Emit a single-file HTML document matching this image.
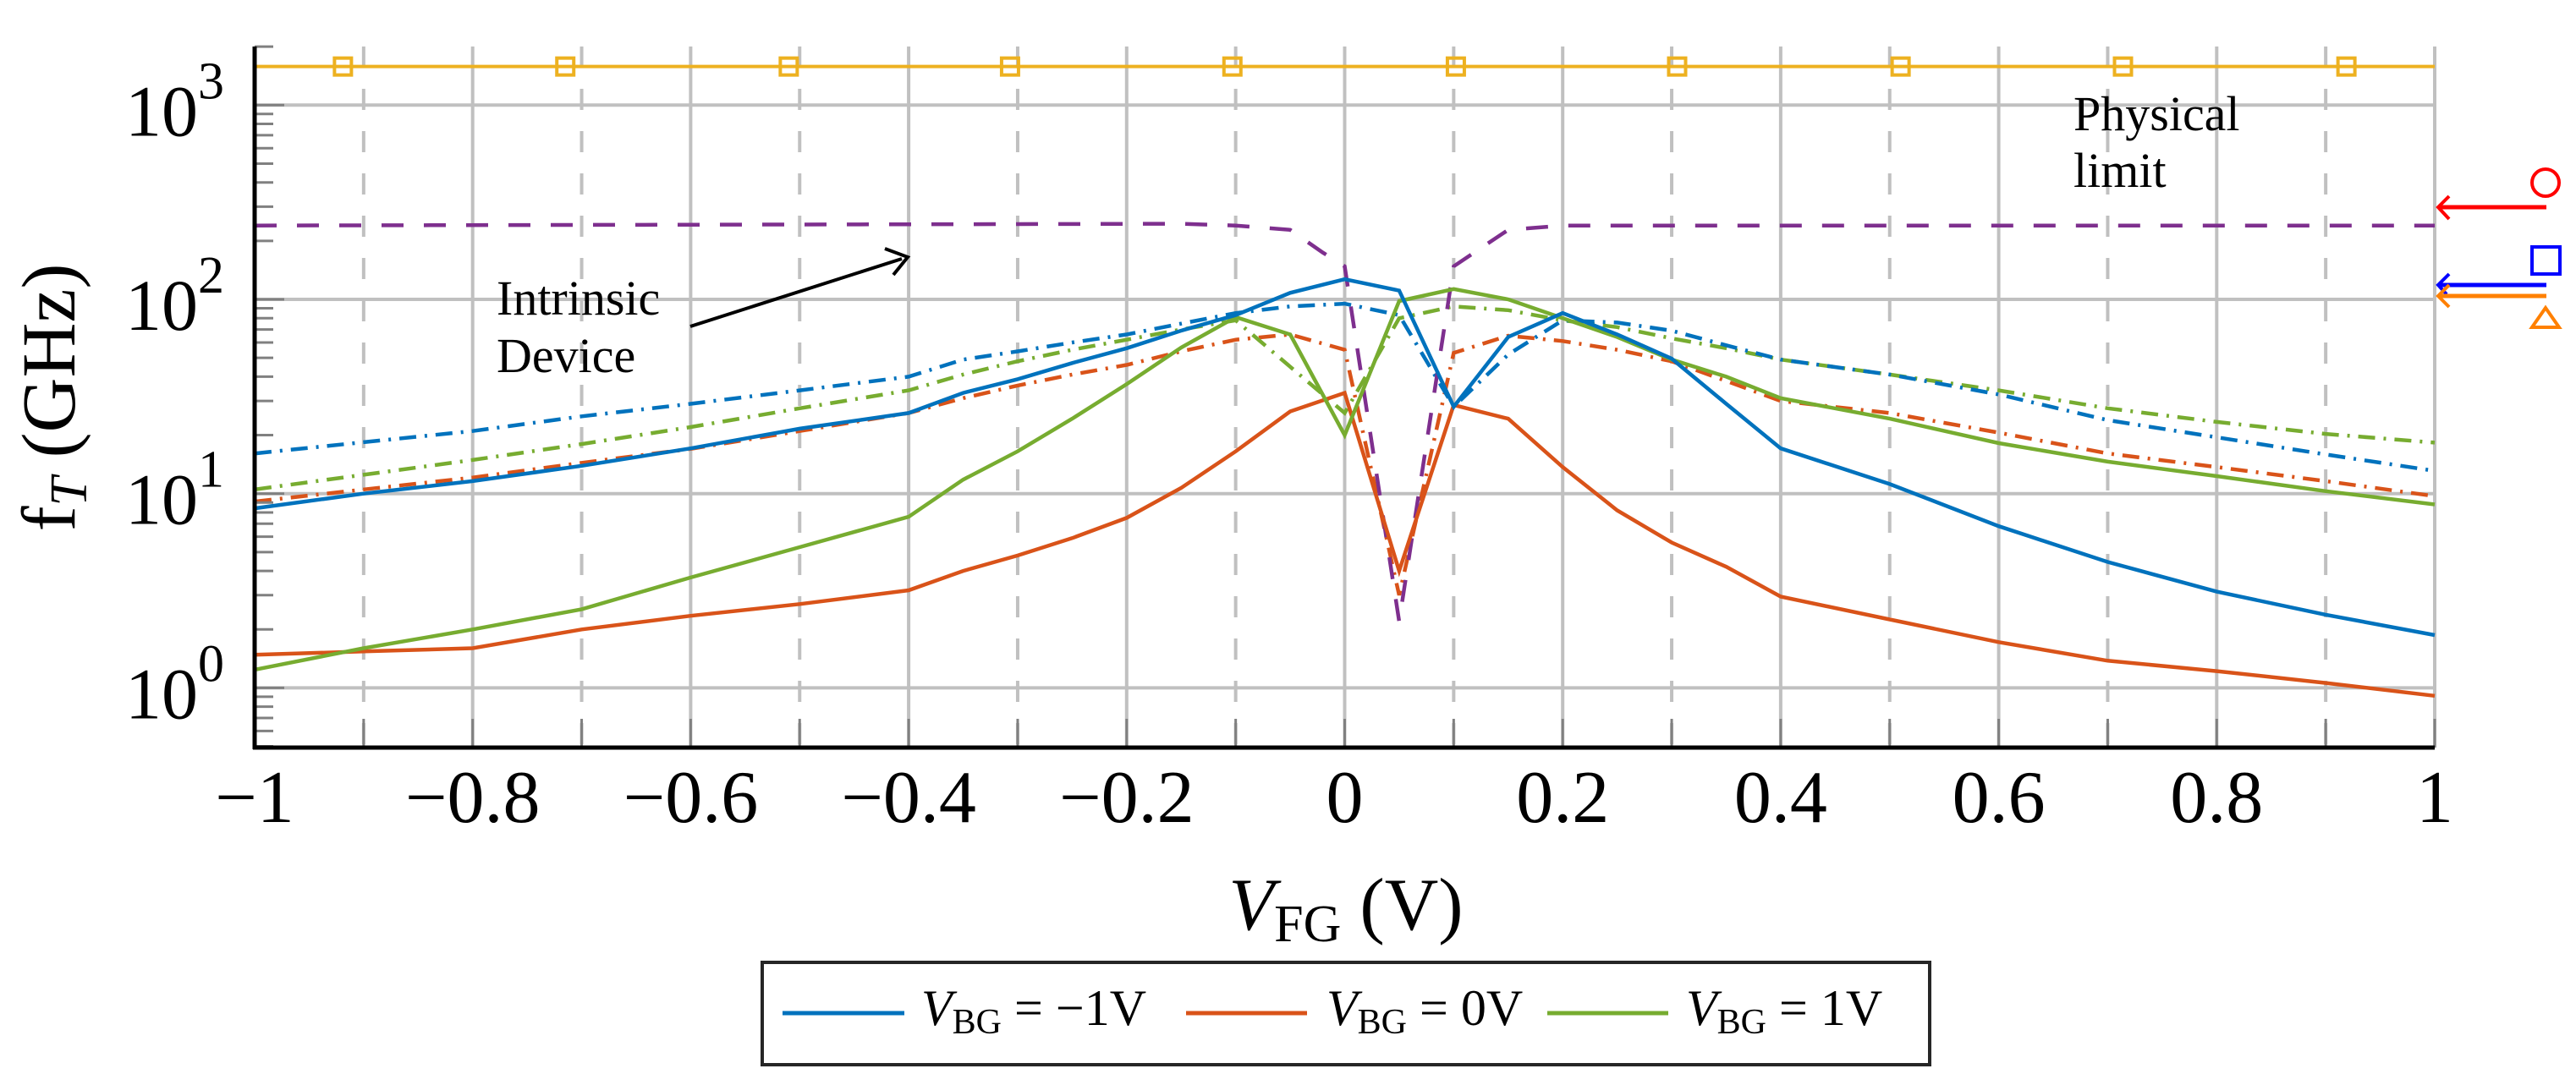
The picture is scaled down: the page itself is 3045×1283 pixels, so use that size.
<!DOCTYPE html>
<html><head><meta charset="utf-8"><style>
html,body{margin:0;padding:0;background:#fff;}
svg{display:block;}
svg text{font-family:"Liberation Serif","DejaVu Serif",serif;}
</style></head><body>
<svg id="chart" width="3045" height="1283" viewBox="0 0 3045 1283" xmlns="http://www.w3.org/2000/svg" font-family="Liberation Serif, serif">
<rect width="3045" height="1283" fill="#fff"/>
<g id="grid"></g>
<g id="series"></g>
<g id="axes"></g>
<text transform="translate(88,470) rotate(-90)" text-anchor="middle" font-size="90">f<tspan font-style="italic" font-size="62" dy="14">T</tspan><tspan dy="-14"> (GHz)</tspan></text>
<text x="1591" y="1099" text-anchor="middle" font-size="88"><tspan font-style="italic">V</tspan><tspan font-size="62" dy="14">FG</tspan><tspan dy="-14"> (V)</tspan></text>
<g>
<text x="587" y="372" font-size="58" font-family="Liberation Serif, serif">Intrinsic</text>
<text x="587" y="440" font-size="58" font-family="Liberation Serif, serif">Device</text>
<line x1="816" y1="386" x2="1066" y2="306" stroke="#000" stroke-width="4"/>
<path d="M1046,294 L1073,304 L1056,325" fill="none" stroke="#000" stroke-width="4"/>
</g>
<g>
<text x="2451" y="154" font-size="58" font-family="Liberation Serif, serif">Physical</text>
<text x="2451" y="221" font-size="58" font-family="Liberation Serif, serif">limit</text>
</g>
<g>
<line x1="2884" y1="245" x2="3010" y2="245" stroke="#ff0000" stroke-width="5"/>
<path d="M2895,232 L2882,245 L2895,259" fill="none" stroke="#ff0000" stroke-width="4"/>
<circle cx="3009" cy="216" r="16" fill="none" stroke="#ff0000" stroke-width="4"/>
<line x1="2884" y1="337" x2="3010" y2="337" stroke="#0000ff" stroke-width="5"/>
<path d="M2895,324 L2882,337 L2892,348" fill="none" stroke="#0000ff" stroke-width="4"/>
<rect x="2993" y="292" width="33" height="32" fill="none" stroke="#0000ff" stroke-width="4"/>
<line x1="2884" y1="350" x2="3010" y2="350" stroke="#ff8000" stroke-width="5"/>
<path d="M2895,337 L2882,350 L2895,363" fill="none" stroke="#ff8000" stroke-width="4"/>
<path d="M3009,364 L3025,387 L2993,387 Z" fill="none" stroke="#ff8000" stroke-width="4"/>
</g>
<g>
<rect x="901" y="1138" width="1380" height="121" fill="#fff" stroke="#262626" stroke-width="4"/>
<line x1="925" y1="1198" x2="1069" y2="1198" stroke="#0072BD" stroke-width="5"/>
<text x="1089" y="1212" font-size="60"><tspan font-style="italic">V</tspan><tspan font-size="42" dy="10">BG</tspan><tspan dy="-10"> = −1V</tspan></text>
<line x1="1402" y1="1198" x2="1545" y2="1198" stroke="#D95319" stroke-width="5"/>
<text x="1568" y="1212" font-size="60"><tspan font-style="italic">V</tspan><tspan font-size="42" dy="10">BG</tspan><tspan dy="-10"> = 0V</tspan></text>
<line x1="1829" y1="1198" x2="1972" y2="1198" stroke="#77AC30" stroke-width="5"/>
<text x="1993" y="1212" font-size="60"><tspan font-style="italic">V</tspan><tspan font-size="42" dy="10">BG</tspan><tspan dy="-10"> = 1V</tspan></text>
</g>
</svg>
<script>
const xs = [-1,-0.9,-0.8,-0.7,-0.6,-0.5,-0.4,-0.35,-0.3,-0.25,-0.2,-0.15,-0.1,-0.05,0,0.05,0.1,0.15,0.2,0.25,0.3,0.35,0.4,0.5,0.6,0.7,0.8,0.9,1];
const blueSolid = [8.4,10,11.6,13.9,17.1,21.6,26,33,38.8,47,56,69,83,108,127,111,28,64,85,66,49.5,29,17.1,11.2,6.8,4.45,3.13,2.38,1.87];
const blueDashDot = [16.1,18.4,21,25,29,34,40,49,54,60,66,75,85,92,95,83,28,52,78,76,69,58,49,41,32.4,23.9,19.5,15.9,13.1];
const redSolid = [1.48,1.54,1.6,2.0,2.35,2.7,3.18,4.0,4.8,5.9,7.5,10.7,16.5,26.5,33,4.0,28.6,24.3,13.7,8.2,5.6,4.2,2.95,2.25,1.72,1.38,1.22,1.06,0.91];
const redDashDot = [9.1,10.5,12.1,14.4,17,21,26,31,36,41,46,54,62,66,55,3.0,53,65,61,55,48,38,30,26,20.6,16.1,13.7,11.6,9.7];
const greenSolid = [1.24,1.6,2.0,2.54,3.7,5.3,7.6,11.8,16.5,24.3,36.6,56.5,81,66,20,98,113,100,80,64,49,40,31,24.3,18.2,14.6,12.3,10.3,8.8];
const greenDashDot = [10.5,12.5,14.9,18,22,27.5,34,41,48,55,62,70,78,45,26,80,92,88,78,72,63,56,49,41,34,27.5,23.4,20.3,18.3];
const intrinsicX = [-1,-0.15,-0.1,-0.05,-0.02,0,0.05,0.1,0.15,0.2,1];
const intrinsicY = [240,245,240,228,174,148,2.2,148,228,240,240];
const limitX = [-0.919,-0.715,-0.51,-0.307,-0.103,0.102,0.305,0.51,0.714,0.919];
const limitValue = 1580;
const xTicks = [-1,-0.8,-0.6,-0.4,-0.2,0,0.2,0.4,0.6,0.8,1];
const xTickLabels = ["−1","−0.8","−0.6","−0.4","−0.2","0","0.2","0.4","0.6","0.8","1"];
const yDecades = [0,1,2,3];

const NS="http://www.w3.org/2000/svg";
const X0=301, X1=2878, YB=884, YT=55;
function sx(v){return X0+(v+1)/2*(X1-X0);}
function sy(v){return 813.4-229.7*Math.log10(v);}
function mk(tag,attrs,parent){const e=document.createElementNS(NS,tag);for(const k in attrs)e.setAttribute(k,attrs[k]);parent.appendChild(e);return e;}
const grid=document.getElementById('grid'), ser=document.getElementById('series'), axes=document.getElementById('axes');

for(let i=0;i<10;i++){const v=-0.9+0.2*i;
 const l=mk('line',{x1:sx(v),x2:sx(v),y1:YT,y2:YB,stroke:'#c0c0c0','stroke-width':4,'stroke-dasharray':'25 25'},grid);
 
 }
xTicks.forEach(v=>{const l=mk('line',{x1:sx(v),x2:sx(v),y1:YT,y2:YB,stroke:'#c0c0c0','stroke-width':4},grid);
 
 });
yDecades.forEach(d=>{const l=mk('line',{x1:X0,x2:X1,y1:sy(Math.pow(10,d)),y2:sy(Math.pow(10,d)),stroke:'#c0c0c0','stroke-width':4},grid);
 
 });

function line(xa,ya,color,dash,name){
 const d=xa.map((x,i)=>(i?'L':'M')+sx(x).toFixed(1)+','+sy(ya[i]).toFixed(1)).join(' ');
 const p=mk('path',{d:d,fill:'none',stroke:color,'stroke-width':4.5,'stroke-linejoin':'miter'},ser);
 if(dash)p.setAttribute('stroke-dasharray',dash);
 
 
}
const dd='20 10 3 10';
line(xs,redDashDot,'#D95319',dd,'series-vbg-0-intrinsic');
line(xs,greenDashDot,'#77AC30',dd,'series-vbg-1-intrinsic');
line(xs,blueDashDot,'#0072BD',dd,'series-vbg-neg1-intrinsic');
line(intrinsicX,intrinsicY,'#7E2F8E','26 24','intrinsic-device-limit');
line(xs,redSolid,'#D95319',null,'series-vbg-0');
line(xs,greenSolid,'#77AC30',null,'series-vbg-1');
line(xs,blueSolid,'#0072BD',null,'series-vbg-neg1');
const gl=mk('line',{x1:X0,x2:X1,y1:sy(limitValue),y2:sy(limitValue),stroke:'#EDB120','stroke-width':4},ser);


limitX.forEach(v=>{const r=mk('rect',{x:sx(v)-10,y:sy(limitValue)-10,width:20,height:20,fill:'none',stroke:'#EDB120','stroke-width':4},ser);
 
 });

for(let d=-1;d<=3;d++){for(let m=2;m<=9;m++){const v=m*Math.pow(10,d);if(v<0.5||v>2000)continue;
 const t=mk('line',{x1:X0,x2:X0+22,y1:sy(v),y2:sy(v),stroke:'#808080','stroke-width':3},axes);
 
 }}
yDecades.forEach(d=>{const y=sy(Math.pow(10,d));
 const t=mk('line',{x1:X0,x2:X0+35,y1:y,y2:y,stroke:'#808080','stroke-width':3},axes);
 
 
 const tx=mk('text',{x:265,y:y+36,'text-anchor':'end','font-size':86},axes);
 
 
 tx.innerHTML='10<tspan font-size="62" dy="-44">'+d+'</tspan>';});
for(let i=0;i<=20;i++){const v=-1+0.1*i;
 const t=mk('line',{x1:sx(v),x2:sx(v),y1:YB,y2:YB-34,stroke:'#808080','stroke-width':3},axes);
 
 }
xTicks.forEach((v,i)=>{const tx=mk('text',{x:sx(v),y:972,'text-anchor':'middle','font-size':88},axes);
 
 
 tx.textContent=xTickLabels[i];});
const ax=mk('line',{x1:X0,x2:X0,y1:YT,y2:YB+2,stroke:'#000','stroke-width':5},axes);


const bx=mk('line',{x1:X0-2,x2:X1,y1:YB,y2:YB,stroke:'#000','stroke-width':5},axes);


</script>
</body></html>
